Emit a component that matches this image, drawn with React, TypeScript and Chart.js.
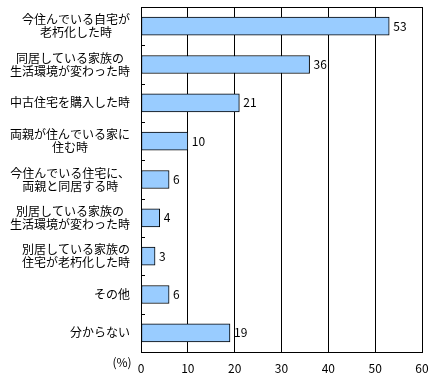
import React, { useEffect, useRef } from "react";
import { Chart, registerables } from "chart.js";

Chart.register(...registerables);

const categories: string[][] = [
  ["今住んでいる自宅が", "老朽化した時"],
  ["同居している家族の", "生活環境が変わった時"],
  ["中古住宅を購入した時"],
  ["両親が住んでいる家に", "住む時"],
  ["今住んでいる住宅に、", "両親と同居する時"],
  ["別居している家族の", "生活環境が変わった時"],
  ["別居している家族の", "住宅が老朽化した時"],
  ["その他"],
  ["分からない"],
];
const values: number[] = [53, 36, 21, 10, 6, 4, 3, 6, 19];
const xMin = 0;
const xMax = 60;
const xStep = 10;
const unitLabel = "(%)";

const FONT = '"Noto Sans CJK JP", "Noto Sans", sans-serif';

const customPlugin = {
  id: "custom",
  afterDraw(chart: any) {
    const ctx = chart.ctx;
    const area = chart.chartArea;
    const yScale = chart.scales.y;
    ctx.save();
    ctx.strokeStyle = "#000";
    ctx.lineWidth = 1;
    ctx.beginPath();
    ctx.moveTo(Math.round(area.left) + 0.5, Math.round(area.top) + 0.5);
    ctx.lineTo(Math.round(area.right) + 0.5, Math.round(area.top) + 0.5);
    ctx.stroke();
    for (let i = 1; i < categories.length; i++) {
      const y = Math.round(yScale.getPixelForValue(i - 0.5)) + 0.5;
      ctx.beginPath();
      ctx.moveTo(Math.round(area.left), y);
      ctx.lineTo(Math.round(area.left) + 4, y);
      ctx.stroke();
    }
    ctx.fillStyle = "#000";
    ctx.font = "12px " + FONT;
    ctx.textBaseline = "middle";
    ctx.textAlign = "center";
    const rightEdge = area.left - 11;
    const lh = 13;
    categories.forEach((lines, i) => {
      const cy = yScale.getPixelForValue(i);
      const maxW = Math.max(...lines.map((l) => ctx.measureText(l).width));
      const cx = rightEdge - maxW / 2;
      const startY = cy - ((lines.length - 1) * lh) / 2;
      lines.forEach((l, j) => ctx.fillText(l, cx, startY + j * lh));
    });
    ctx.textAlign = "left";
    const meta = chart.getDatasetMeta(0);
    meta.data.forEach((bar: any, i: number) => {
      ctx.fillText(String(values[i]), bar.x + 4, bar.y);
    });
    ctx.textAlign = "center";
    ctx.fillText(unitLabel, 122, 362);
    ctx.restore();
  },
};

export default function App() {
  const ref = useRef<HTMLCanvasElement>(null);
  useEffect(() => {
    if (!ref.current) return;
    const chart = new Chart(ref.current, {
      type: "bar",
      data: {
        labels: categories.map((c) => c.join("")),
        datasets: [
          {
            data: values,
            backgroundColor: "#99CCFF",
            borderColor: "#000000",
            borderWidth: 1,
            borderSkipped: false,
            barThickness: 18,
          },
        ],
      },
      options: {
        indexAxis: "y",
        animation: false,
        responsive: false,
        devicePixelRatio: 1,
        layout: { padding: { top: 7, right: 8, left: 0, bottom: 0 } },
        plugins: { legend: { display: false }, tooltip: { enabled: false } },
        scales: {
          x: {
            min: xMin,
            max: xMax,
            ticks: { stepSize: xStep, color: "#000", font: { family: FONT, size: 12 }, padding: 9 },
            grid: { color: "#000", drawTicks: false, lineWidth: 1 },
            border: { color: "#000" },
            afterFit: (s: any) => {
              s.height = 28;
              s.paddingRight = 0;
              s.paddingLeft = 0;
            },
          },
          y: {
            ticks: { display: false },
            grid: { display: false },
            border: { color: "#000" },
            afterFit: (s: any) => {
              s.width = 141;
              s.paddingTop = 0;
              s.paddingBottom = 0;
            },
          },
        },
      },
      plugins: [customPlugin],
    });
    return () => chart.destroy();
  }, []);
  return (
    <div style={{ position: "absolute", left: 0, top: 0, width: 430, height: 380, background: "#fff" }}>
      <canvas ref={ref} width={430} height={380} />
    </div>
  );
}
